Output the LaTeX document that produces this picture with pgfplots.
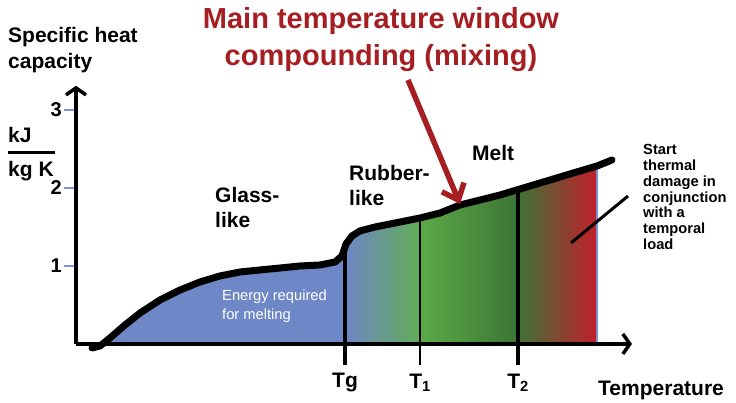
\documentclass[border=0pt]{standalone}
\usepackage{pgfplots}
\pgfplotsset{compat=1.18}
\usepackage{pgfplotstable}
\usepackage{fontspec}
\setmainfont{Liberation Sans}
\usetikzlibrary{arrows.meta}
\definecolor{fillblue}{HTML}{6E87C7}
\definecolor{tickblue}{HTML}{7B93D3}
\definecolor{grA}{HTML}{62AC55}
\definecolor{grB}{HTML}{5CAA46}
\definecolor{grC}{HTML}{3D7437}
\definecolor{redd}{HTML}{C21E2A}
\definecolor{titlered}{HTML}{A51E22}
\pgfplotstableread{
x y
92 -0.051
100 -0.026
110 0.077
125 0.244
140 0.397
160 0.564
180 0.692
200 0.795
220 0.872
240 0.923
260 0.949
280 0.974
300 1.000
320 1.013
335 1.051
342 1.128
346 1.282
352 1.385
360 1.449
375 1.500
400 1.564
420 1.615
440 1.679
460 1.782
480 1.846
500 1.910
520 1.987
540 2.064
560 2.141
580 2.218
597 2.282
612 2.359
}\curve
\begin{document}
\begin{tikzpicture}
\begin{axis}[
  x=1pt, y=78pt,
  xmin=76, xmax=632, ymin=0, ymax=3.31,
  axis lines=left,
  axis on top,
  clip=false,
  axis line style={line width=3.5pt, -{Straight Barb[length=7pt,width=20pt]}},
  xtick=\empty,
  ytick={1,2,3},
  tick align=outside,
  major tick length=12pt,
  tick style={line width=2pt, color=tickblue},
  /pgf/number format/assume math mode=true,
  yticklabel style={font=\bfseries\fontsize{20}{20}\selectfont, inner sep=2pt},
]
% fills
\addplot[draw=none, fill=fillblue] coordinates {(104,0) (110,0.077) (125,0.244) (140,0.397) (160,0.564) (180,0.692) (200,0.795) (220,0.872) (240,0.923) (260,0.949) (280,0.974) (300,1.000) (320,1.013) (335,1.051) (342,1.128) (345,1.244)} \closedcycle;
\addplot[draw=none, left color=fillblue, right color=grA] coordinates {(345,1.244) (346,1.282) (352,1.385) (360,1.449) (375,1.500) (400,1.564) (420,1.615)} \closedcycle;
\addplot[draw=none, left color=grB, right color=grC] coordinates {(420,1.615) (440,1.679) (460,1.782) (480,1.846) (500,1.910) (518,1.979)} \closedcycle;
\addplot[draw=none, left color=grC, right color=redd] coordinates {(518,1.979) (520,1.987) (540,2.064) (560,2.141) (580,2.218) (597,2.282)} \closedcycle;
\addplot[tickblue, line width=2pt] coordinates {(597,0) (597,2.282)};
% vertical markers
\addplot[black, line width=4pt] coordinates {(345,-0.269) (345,1.23)};
\addplot[black, line width=2.6pt] coordinates {(420,-0.269) (420,1.615)};
\addplot[black, line width=4pt] coordinates {(518,-0.269) (518,1.979)};
% curve
\addplot[black, line width=7pt, line join=round, line cap=round] table {\curve};
% annotation line
\addplot[black, line width=3pt] coordinates {(571,1.295) (628,1.897)};
% red arrow
\draw[titlered, line width=5.5pt, -{Straight Barb[length=14pt,width=24pt]}] (axis cs:408,3.385) -- (axis cs:460,1.795);
% texts
\node[anchor=north west, align=left, font=\bfseries\fontsize{21}{26}\selectfont, inner sep=0pt] at (axis cs:8,4.06) {Specific heat\\capacity};
\node[anchor=west, font=\bfseries\fontsize{21}{21}\selectfont, inner sep=0pt] at (axis cs:8,2.679) {kJ};
\draw[black, line width=3pt] (axis cs:8,2.449) -- (axis cs:55,2.449);
\node[anchor=west, font=\bfseries\fontsize{21}{21}\selectfont, inner sep=0pt] at (axis cs:8,2.218) {kg K};
\node[anchor=west, align=left, font=\bfseries\fontsize{21}{25}\selectfont, inner sep=0pt] at (axis cs:215,1.744) {Glass-\\like};
\node[anchor=west, align=left, text=white, font=\fontsize{14.7}{19}\selectfont, inner sep=0pt] at (axis cs:222,0.487) {Energy required\\for melting};
\node[anchor=west, align=left, font=\bfseries\fontsize{21}{25}\selectfont, inner sep=0pt] at (axis cs:349,2.026) {Rubber-\\like};
\node[anchor=west, font=\bfseries\fontsize{21}{21}\selectfont, inner sep=0pt] at (axis cs:472,2.449) {Melt};
\node[anchor=north west, align=left, font=\bfseries\fontsize{14.7}{15.8}\selectfont, inner sep=0pt] at (axis cs:643,2.56) {Start\\thermal\\damage in\\conjunction\\with a\\temporal\\load};
\node[align=center, text=titlered, font=\bfseries\fontsize{29}{37}\selectfont, inner sep=0pt] at (axis cs:381,3.897) {Main temperature window\\compounding (mixing)};
\node[font=\bfseries\fontsize{21}{21}\selectfont, inner sep=0pt] at (axis cs:345,-0.5) {Tg};
\node[font=\bfseries\fontsize{21}{21}\selectfont, inner sep=0pt] at (axis cs:420,-0.5) {T\textsubscript{1}};
\node[font=\bfseries\fontsize{21}{21}\selectfont, inner sep=0pt] at (axis cs:518,-0.5) {T\textsubscript{2}};
\node[anchor=west, font=\bfseries\fontsize{21}{21}\selectfont, inner sep=0pt] at (axis cs:598,-0.59) {Temperature};
% page frame
\path (axis cs:0,-0.744) rectangle (axis cs:736,4.410);
\end{axis}
\end{tikzpicture}
\end{document}
